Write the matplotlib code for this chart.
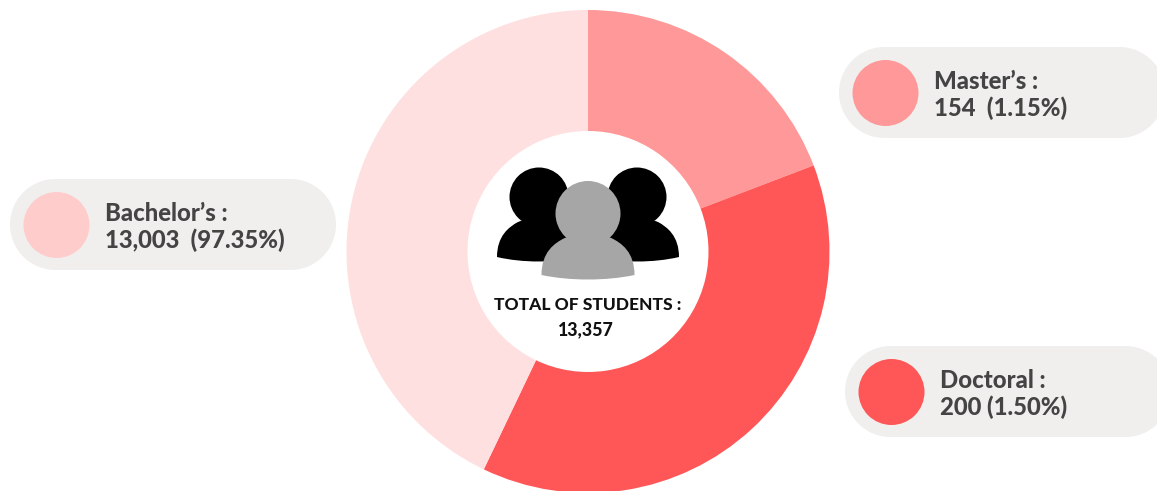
import matplotlib
matplotlib.use("Agg")
import matplotlib.pyplot as plt
from matplotlib.patches import Circle, Rectangle, PathPatch
from matplotlib.path import Path

# slice shares as drawn in the picture (they do not follow the printed percentages)
categories = ["Master's", "Doctoral", "Bachelor's"]
slice_shares = [19.2, 37.9, 42.9]
slice_colors = ["#FF9999", "#FF5757", "#FFE0E0"]

label_titles = ["Master’s :", "Doctoral :", "Bachelor’s :"]
label_values = ["154  (1.15%)", "200 (1.50%)", "13,003  (97.35%)"]
dot_colors = ["#FF9999", "#FF5757", "#FFCCCC"]
pill_lefts = [839, 845, 10]
pill_tops = [47, 346, 179]

total_title = "TOTAL OF STUDENTS :"
total_value = "13,357"

plt.rcParams["font.family"] = ["Lato", "DejaVu Sans"]

fig = plt.figure(figsize=(11.57, 4.91), dpi=100)
ax = fig.add_axes([0, 0, 1, 1])

# y axis is flipped, so the pie runs counterclockwise here to look clockwise
ax.pie(slice_shares, colors=slice_colors, startangle=-90, counterclock=True,
       center=(588, 251.5), radius=241.5, frame=True,
       wedgeprops=dict(width=121, linewidth=0))
ax.set_xlim(0, 1157)
ax.set_ylim(491, 0)
ax.set_aspect("auto")
ax.axis("off")


def person(cx, head_y, head_r, body_top, body_bottom, half_w, color, z):
    ax.add_patch(Circle((cx, head_y), head_r, fc=color, ec="none", zorder=z))
    verts = [
        (cx - half_w, body_bottom),
        (cx - half_w, body_top + 14), (cx - half_w * 0.72, body_top + 5), (cx - half_w * 0.5, body_top),
        (cx, body_top - 8),
        (cx + half_w * 0.5, body_top),
        (cx + half_w * 0.72, body_top + 5), (cx + half_w, body_top + 14), (cx + half_w, body_bottom),
        (cx + half_w * 0.4, body_bottom + 6), (cx - half_w * 0.4, body_bottom + 6), (cx - half_w, body_bottom),
        (cx - half_w, body_bottom),
    ]
    codes = [Path.MOVETO,
             Path.CURVE4, Path.CURVE4, Path.CURVE4,
             Path.LINETO,
             Path.LINETO,
             Path.CURVE4, Path.CURVE4, Path.CURVE4,
             Path.CURVE4, Path.CURVE4, Path.CURVE4,
             Path.CLOSEPOLY]
    ax.add_patch(PathPatch(Path(verts, codes), fc=color, ec="none", zorder=z))


person(539, 197, 29.5, 222, 257, 42, "black", 3)
person(637, 197, 29.5, 222, 257, 42, "black", 3)
person(588, 213.5, 32.5, 238, 275, 46.5, "#A6A6A6", 4)

ax.text(588, 305, total_title, ha="center", va="center", fontsize=12.5,
        fontweight="black", color="#111111", zorder=5)
ax.text(586, 329.5, total_value, ha="center", va="center", fontsize=12.8,
        fontweight="black", color="#111111", zorder=5)

pill_color = "#F0EFED"
for i in range(3):
    x0 = pill_lefts[i]
    y0 = pill_tops[i]
    ax.add_patch(Circle((x0 + 45.5, y0 + 45.5), 45.5, fc=pill_color, ec="none", zorder=2))
    ax.add_patch(Circle((x0 + 280.5, y0 + 45.5), 45.5, fc=pill_color, ec="none", zorder=2))
    ax.add_patch(Rectangle((x0 + 45.5, y0), 235, 91, fc=pill_color, ec="none", zorder=2))
    ax.add_patch(Circle((x0 + 46.5, y0 + 46), 33, fc=dot_colors[i], ec="none", zorder=3))
    ax.text(x0 + 95, y0 + 34.5, label_titles[i], ha="left", va="center", fontsize=17.2,
            fontweight="black", color="#444444", zorder=4)
    ax.text(x0 + 95, y0 + 61.5, label_values[i], ha="left", va="center", fontsize=17.2,
            fontweight="black", color="#444444", zorder=4)

fig.savefig("out.png", dpi=100, facecolor="white")
